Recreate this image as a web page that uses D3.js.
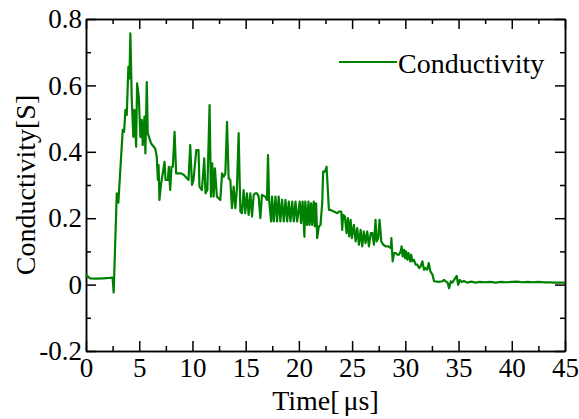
<!DOCTYPE html>
<html>
<head>
<meta charset="utf-8">
<script src="https://cdn.jsdelivr.net/npm/d3@7"></script>
<style>
  body { margin: 0; background: #fff; }
  text { font-family: "Liberation Serif", "Times New Roman", serif; fill: #000; }
</style>
</head>
<body>
<div id="chart"></div>
<script>
// time in microseconds
let time = [
    0.0, 0.15, 0.4, 1.0, 1.6, 2.2, 2.5, 2.6, 2.89, 3.04, 3.14, 3.45, 3.58, 3.70, 3.83, 3.98, 4.08, 4.17,
    4.30, 4.45, 4.55, 4.71, 4.80, 4.96, 5.11, 5.24, 5.33, 5.49, 5.58, 5.71, 5.80, 6.12, 6.50, 6.65,
    6.75, 6.82, 6.90, 7.06, 7.38, 7.47, 7.69, 7.78, 7.91, 8.03, 8.16, 8.32, 8.47, 8.94, 9.2, 9.63,
    9.79, 9.96, 10.1, 10.36, 10.57, 10.66, 10.89, 11.11, 11.23, 11.4, 11.61, 11.74, 11.86, 11.99,
    12.11, 12.3, 12.62, 12.78, 12.93, 13.09, 13.25, 13.40, 13.56, 13.71, 13.87, 14.03, 14.18, 14.34,
    14.50, 14.65, 14.81, 14.96, 15.12, 15.28, 15.44, 15.6, 15.75, 15.9, 16.06, 16.22, 16.38, 16.53,
    16.84, 17.0, 17.1, 17.2, 17.39, 17.48, 17.64, 17.8, 17.95, 18.1, 18.26, 18.42, 18.58, 18.74,
    18.9, 19.05, 19.21, 19.37, 19.52, 19.68, 19.83, 20.08, 20.2, 20.35, 20.52, 20.6, 20.77, 20.9,
    21.0, 21.15, 21.25, 21.4, 21.5, 21.62, 21.72, 21.87, 22.03, 22.19, 22.28, 22.44, 22.6, 22.72,
    22.82, 22.97, 23.29, 23.6, 23.76, 23.98, 24.07, 24.16, 24.32, 24.48, 24.6, 24.73, 24.86, 24.98,
    25.17, 25.33, 25.48, 25.64, 25.8, 25.95, 26.1, 26.26, 26.42, 26.58, 26.75, 26.9, 27.05, 27.2,
    27.3, 27.45, 27.58, 27.74, 27.93, 28.17, 28.39, 28.64, 28.69, 28.81, 28.94, 29.1, 29.25, 29.4,
    29.56, 29.65, 29.75, 29.87, 29.97, 30.07, 30.19, 30.3, 30.45, 30.55, 30.66, 30.8, 30.97, 31.13,
    31.3, 31.45, 31.6, 31.76, 31.9, 32.05, 32.2, 32.35, 32.55, 32.7, 33.17, 33.48, 33.64, 33.8,
    33.97, 34.11, 34.27, 34.42, 34.58, 34.83, 34.96, 35.12, 35.3, 35.5, 35.8, 36.2, 36.6, 37.0,
    37.5, 38.0, 38.5, 39.0, 39.5, 40.0, 40.5, 41.0, 41.5, 42.0, 42.5, 43.0, 43.5, 44.0, 45.0
]

// conductivity in S
let conductivity = [
    0.032, 0.025, 0.019, 0.018, 0.019, 0.020, 0.021, -0.024, 0.275, 0.247, 0.30, 0.466, 0.46, 0.526, 0.511, 0.656, 0.621, 0.757,
    0.556, 0.445, 0.526, 0.415, 0.606, 0.566, 0.445, 0.496, 0.42, 0.506, 0.395, 0.61, 0.456, 0.425, 0.41, 0.385,
    0.315, 0.36, 0.255, 0.305, 0.37, 0.315, 0.315, 0.355, 0.285, 0.355, 0.355, 0.46, 0.335, 0.335, 0.33, 0.315,
    0.42, 0.30, 0.315, 0.405, 0.405, 0.295, 0.285, 0.38, 0.275, 0.285, 0.541, 0.265, 0.365, 0.265,
    0.35, 0.265, 0.255, 0.335, 0.325, 0.335, 0.49, 0.32, 0.315, 0.23, 0.295, 0.23, 0.29, 0.456,
    0.22, 0.215, 0.285, 0.215, 0.275, 0.21, 0.275, 0.205, 0.27, 0.275, 0.275, 0.265, 0.20, 0.27,
    0.265, 0.255, 0.39, 0.255, 0.19, 0.265, 0.19, 0.265, 0.19, 0.265, 0.19, 0.255, 0.19, 0.255,
    0.19, 0.25, 0.19, 0.25, 0.19, 0.25, 0.19, 0.25, 0.185, 0.25, 0.144, 0.25, 0.18, 0.25,
    0.18, 0.245, 0.18, 0.25, 0.175, 0.245, 0.14, 0.175, 0.18, 0.245, 0.34, 0.34, 0.355, 0.285,
    0.225, 0.225, 0.22, 0.215, 0.22, 0.22, 0.165, 0.21, 0.205, 0.155, 0.20, 0.145, 0.195, 0.14,
    0.18, 0.13, 0.17, 0.12, 0.165, 0.115, 0.16, 0.125, 0.16, 0.115, 0.155, 0.155, 0.12, 0.195,
    0.13, 0.14, 0.195, 0.13, 0.12, 0.115, 0.115, 0.11, 0.14, 0.07, 0.095, 0.095, 0.09, 0.09,
    0.10, 0.115, 0.085, 0.105, 0.08, 0.10, 0.075, 0.095, 0.07, 0.09, 0.07, 0.075, 0.06, 0.06,
    0.05, 0.055, 0.07, 0.045, 0.05, 0.045, 0.065, 0.04, 0.03, 0.01, 0.008, 0.01, 0.014, 0.01,
    0.006, -0.011, 0.01, 0.006, 0.014, 0.026, -0.001, 0.014, 0.008, 0.011, 0.006, 0.009, 0.006, 0.008,
    0.007, 0.008, 0.006, 0.008, 0.007, 0.008, 0.009, 0.007, 0.008, 0.007, 0.008, 0.007, 0.007, 0.006, 0.006
]

let xTicks = [0, 5, 10, 15, 20, 25, 30, 35, 40, 45]
let xMinorTicks = [2.5, 7.5, 12.5, 17.5, 22.5, 27.5, 32.5, 37.5, 42.5]
let yTicks = [-0.2, 0, 0.2, 0.4, 0.6, 0.8]
let yMinorTicks = [-0.1, 0.1, 0.3, 0.5, 0.7]
let seriesName = "Conductivity"

let data = time.map((t, i) => ({"time": t, "value": conductivity[i]}))

let margin = {top: 19, right: 14, bottom: 68, left: 86},
    width = 579 - margin.left - margin.right,
    height = 419 - margin.top - margin.bottom;

let serif = '"Liberation Serif", "Times New Roman", serif'

let svg = d3.select("#chart")
    .append("svg")
    .attr("width", width + margin.left + margin.right)
    .attr("height", height + margin.top + margin.bottom)
    .append("g")
    .attr("transform", "translate(" + margin.left + "," + margin.top + ")");

let x = d3.scaleLinear().domain([0, 45]).range([0, width])
let y = d3.scaleLinear().domain([-0.2, 0.8]).range([height, 0])

// axes: ticks all point inward, labels only bottom and left
function styleAxis(g) {
    g.attr("font-family", serif).attr("font-size", 27)
    g.select(".domain").attr("stroke", "#000").attr("stroke-width", 1.5)
    g.selectAll(".tick line").attr("stroke", "#000").attr("stroke-width", 1.5)
    g.selectAll(".tick text").style("font-family", serif).style("font-size", "27px")
}

svg.append("g")
    .attr("transform", "translate(0," + height + ")")
    .call(d3.axisBottom(x).tickValues(xTicks).tickSizeInner(-10).tickSizeOuter(0).tickPadding(7).tickFormat(d => String(d)))
    .call(styleAxis)
svg.append("g")
    .attr("transform", "translate(0," + height + ")")
    .call(d3.axisBottom(x).tickValues(xMinorTicks).tickSizeInner(-5).tickSizeOuter(0).tickFormat(""))
    .call(styleAxis)
svg.append("g")
    .call(d3.axisTop(x).tickValues(xTicks).tickSizeInner(-10).tickSizeOuter(0).tickFormat(""))
    .call(styleAxis)
svg.append("g")
    .call(d3.axisTop(x).tickValues(xMinorTicks).tickSizeInner(-5).tickSizeOuter(0).tickFormat(""))
    .call(styleAxis)

svg.append("g")
    .call(d3.axisLeft(y).tickValues(yTicks).tickSizeInner(-10).tickSizeOuter(0).tickPadding(4).tickFormat(d => String(d)))
    .call(styleAxis)
svg.append("g")
    .call(d3.axisLeft(y).tickValues(yMinorTicks).tickSizeInner(-5).tickSizeOuter(0).tickFormat(""))
    .call(styleAxis)
svg.append("g")
    .attr("transform", "translate(" + width + ",0)")
    .call(d3.axisRight(y).tickValues(yTicks).tickSizeInner(-10).tickSizeOuter(0).tickFormat(""))
    .call(styleAxis)
svg.append("g")
    .attr("transform", "translate(" + width + ",0)")
    .call(d3.axisRight(y).tickValues(yMinorTicks).tickSizeInner(-5).tickSizeOuter(0).tickFormat(""))
    .call(styleAxis)

// the line
svg.append("path")
    .datum(data)
    .attr("fill", "none")
    .attr("stroke", "#008000")
    .attr("stroke-width", 2.2)
    .attr("stroke-linejoin", "round")
    .attr("d", d3.line()
        .x(d => x(d["time"]))
        .y(d => y(d["value"]))
    )

// axis titles
let xTitle = svg.append("text")
    .attr("x", width / 2)
    .attr("y", height + 59)
    .attr("text-anchor", "middle")
    .style("font-size", "28px")
xTitle.append("tspan").text("Time[")
xTitle.append("tspan").attr("dx", 4).text("μs]")

svg.append("text")
    .attr("transform", "translate(-51," + (height / 2) + ") rotate(-90)")
    .attr("text-anchor", "middle")
    .style("font-size", "28px")
    .text("Conductivity[S]")

// legend
svg.append("line")
    .attr("x1", 253).attr("x2", 311)
    .attr("y1", 43).attr("y2", 43)
    .attr("stroke", "#008000")
    .attr("stroke-width", 2)
svg.append("text")
    .attr("x", 312)
    .attr("y", 54)
    .style("font-size", "28px")
    .text(seriesName)
</script>
</body>
</html>
